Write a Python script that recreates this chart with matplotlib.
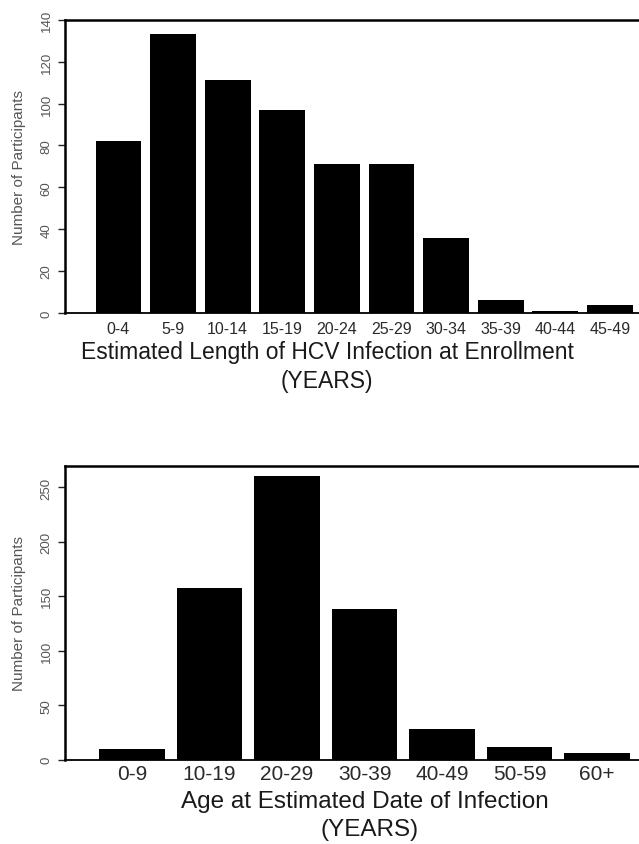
import matplotlib
matplotlib.use("Agg")
import matplotlib.pyplot as plt

plt.rcParams['font.family'] = ['Liberation Sans', 'DejaVu Sans']

# ---- data ----
dur_labels = ["0-4", "5-9", "10-14", "15-19", "20-24", "25-29", "30-34", "35-39", "40-44", "45-49"]
dur_counts = [82, 133, 111, 97, 71, 71, 36, 6, 1, 4]

age_labels = ["0-9", "10-19", "20-29", "30-39", "40-49", "50-59", "60+"]
age_counts = [10, 158, 261, 138, 28, 12, 6]

top_yticks = [0, 20, 40, 60, 80, 100, 120, 140]
bot_yticks = [0, 50, 100, 150, 200, 250]

W, H = 639, 845
fig = plt.figure(figsize=(W / 100, H / 100), dpi=100)
fig.patch.set_facecolor("white")


def style(ax, yticks, xlabels, xfs, xpad):
    for s in ["left", "top", "right"]:
        ax.spines[s].set_linewidth(1.8)
        ax.spines[s].set_color("black")
    ax.spines["bottom"].set_linewidth(1.3)
    ax.set_yticks(yticks)
    ax.set_yticklabels([str(v) for v in yticks], rotation=90, va="center",
                       fontsize=9.5, color="#555555")
    ax.tick_params(axis="y", length=5, width=1, pad=4, color="#222222")
    ax.set_xticks(range(len(xlabels)))
    ax.set_xticklabels(xlabels, fontsize=xfs, color="#2a2a2a")
    ax.tick_params(axis="x", length=0, pad=xpad)
    ax.set_ylabel("Number of Participants", fontsize=11, color="#555555")


# top panel
ax1 = fig.add_axes([65 / W, 1 - 314 / H, (654 - 65) / W, (314 - 20.7) / H])
ax1.bar(range(len(dur_counts)), dur_counts, width=0.84, color="black")
ax1.set_xlim(-0.98, 9.81)
ax1.set_ylim(0, 140)
style(ax1, top_yticks, dur_labels, 11.5, 6)
ax1.yaxis.set_label_coords(-0.067, 0.5)
fig.text(327 / W, 1 - 359 / H, "Estimated Length of HCV Infection at Enrollment",
         ha="center", va="baseline", fontsize=16.5, color="#1a1a1a")
fig.text(327 / W, 1 - 388 / H, "(YEARS)", ha="center", va="baseline",
         fontsize=16.5, color="#1a1a1a")

# bottom panel
ax2 = fig.add_axes([65 / W, 1 - 760.7 / H, (660 - 65) / W, (760.7 - 466.7) / H])
ax2.bar(range(len(age_counts)), age_counts, width=0.845, color="black")
ax2.set_xlim(-0.865, 6.81)
ax2.set_ylim(0, 270)
style(ax2, bot_yticks, age_labels, 15, 3)
ax2.yaxis.set_label_coords(-0.066, 0.5)
fig.text(365 / W, 1 - 808 / H, "Age at Estimated Date of Infection",
         ha="center", va="baseline", fontsize=17.5, color="#1a1a1a")
fig.text(370 / W, 1 - 836 / H, "(YEARS)", ha="center", va="baseline",
         fontsize=17.5, color="#1a1a1a")

fig.savefig("out.png", dpi=100, facecolor="white")
